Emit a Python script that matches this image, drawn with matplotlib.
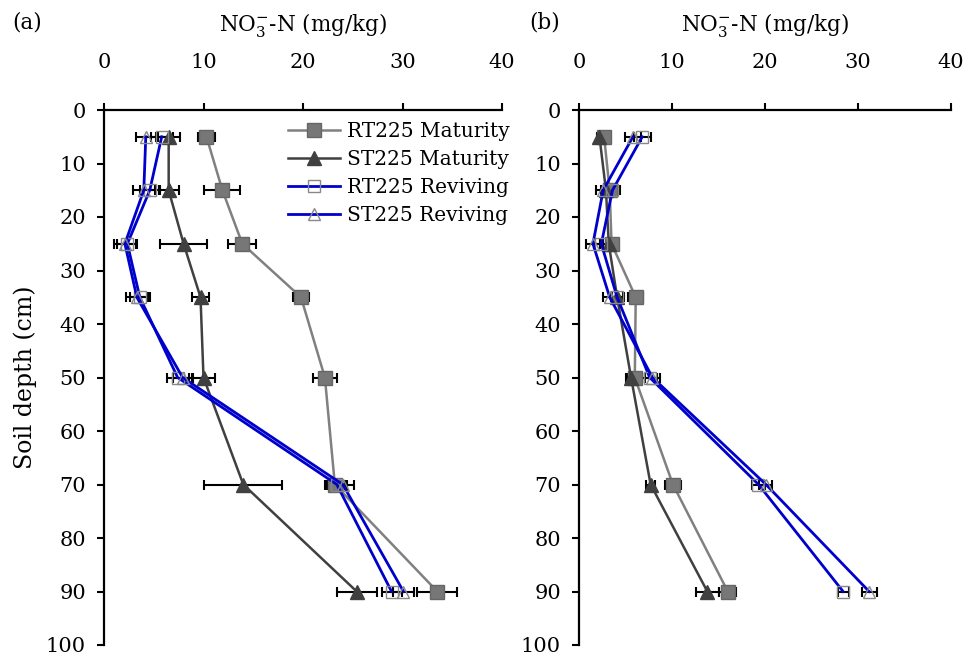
import numpy as np
import matplotlib
matplotlib.use("Agg")
import matplotlib.pyplot as plt

plt.rcParams['font.family'] = ['DejaVu Serif']
plt.rcParams['mathtext.fontset'] = 'dejavuserif'

depth = [5, 15, 25, 35, 50, 70, 90]
series_names = ["RT225 Maturity", "ST225 Maturity", "RT225 Reviving", "ST225 Reviving"]

# panel (a)
a_rt_mat = [10.3, 11.9, 13.9, 19.8, 22.2, 23.2, 33.5]
a_st_mat = [6.5, 6.5, 8.0, 9.7, 10.0, 14.0, 25.4]
a_rt_rev = [5.8, 4.6, 2.35, 3.6, 7.4, 23.4, 28.9]
a_st_rev = [4.2, 4.0, 2.1, 3.3, 7.9, 24.0, 30.1]
a_rt_mat_err = [0.9, 1.8, 1.4, 0.8, 1.2, 1.0, 2.0]
a_st_mat_err = [1.1, 1.0, 2.4, 0.9, 1.2, 3.9, 2.0]
a_rt_rev_err = [1.1, 1.0, 1.0, 1.0, 1.1, 1.0, 1.0]
a_st_rev_err = [1.0, 1.1, 1.1, 1.1, 1.0, 1.1, 1.1]

# panel (b)
b_rt_mat = [2.7, 3.3, 3.5, 6.1, 6.0, 10.1, 16.0]
b_st_mat = [2.2, 2.9, 3.2, 4.1, 5.6, 7.7, 13.8]
b_rt_rev = [6.8, 3.6, 2.4, 4.1, 7.6, 19.3, 28.4]
b_st_rev = [5.8, 2.6, 1.5, 3.3, 7.9, 20.1, 31.2]
b_rt_mat_err = [0.4, 0.6, 0.6, 0.8, 0.8, 0.9, 0.9]
b_st_mat_err = [0.3, 0.5, 0.6, 0.6, 0.6, 0.5, 1.2]
b_rt_rev_err = [0.9, 0.8, 0.8, 0.7, 0.8, 0.7, 0.6]
b_st_rev_err = [0.9, 0.8, 0.8, 0.7, 0.8, 0.7, 0.8]

styles = [
    dict(color='#808080', marker='s', ms=10, mfc='#777777', mec='#666666', lw=1.8),
    dict(color='#404040', marker='^', ms=10, mfc='#404040', mec='#404040', lw=1.8),
    dict(color='#0000cc', marker='s', ms=9, mfc='none', mec='#888888', lw=2.0),
    dict(color='#0000cc', marker='^', ms=9, mfc='none', mec='#888888', lw=2.0),
]

fig = plt.figure(figsize=(9.66, 6.59), dpi=100)
axa = fig.add_axes([104 / 966, 14 / 659, 398 / 966, 535 / 659])
axb = fig.add_axes([579 / 966, 14 / 659, 372 / 966, 535 / 659])

panels = [
    (axa, [a_rt_mat, a_st_mat, a_rt_rev, a_st_rev],
     [a_rt_mat_err, a_st_mat_err, a_rt_rev_err, a_st_rev_err], "(a)", 12),
    (axb, [b_rt_mat, b_st_mat, b_rt_rev, b_st_rev],
     [b_rt_mat_err, b_st_mat_err, b_rt_rev_err, b_st_rev_err], "(b)", 529),
]

handles = []
for ax, vals, errs, tag, tag_x in panels:
    lines = []
    for v, e, st, name in zip(vals, errs, styles, series_names):
        c = ax.errorbar(v, depth, xerr=e, ecolor='black', elinewidth=1.5,
                        capsize=3.5, capthick=1.5, zorder=3, **st)
        lines.append(c[0])
    if ax is axa:
        handles = lines
    ax.set_xlim(0, 40)
    ax.set_ylim(100, 0)
    ax.set_xticks([0, 10, 20, 30, 40])
    ax.set_yticks(np.arange(0, 101, 10))
    ax.xaxis.tick_top()
    ax.xaxis.set_label_position('top')
    ax.spines['bottom'].set_visible(False)
    ax.spines['right'].set_visible(False)
    ax.spines['top'].set_linewidth(1.6)
    ax.spines['left'].set_linewidth(1.6)
    ax.tick_params(axis='x', direction='out', length=5, width=1.5, pad=22, labelsize=15)
    ax.tick_params(axis='y', direction='out', length=5, width=1.5, pad=8, labelsize=15)
    ax.set_xlabel(r'NO$_3^{-}$-N (mg/kg)', fontsize=15.5, labelpad=16)
    fig.text(tag_x / 966, 1 - 22 / 659, tag, fontsize=15.5, va='center', ha='left')

axa.set_ylabel('Soil depth (cm)', fontsize=17, labelpad=6)

leg = axa.legend(handles, series_names, loc='upper right', bbox_to_anchor=(1.05, 1.0),
                 frameon=False, fontsize=14.5, handlelength=2.6, handletextpad=0.35,
                 labelspacing=0.45, borderaxespad=0.2)

fig.savefig('out.png', dpi=100)
